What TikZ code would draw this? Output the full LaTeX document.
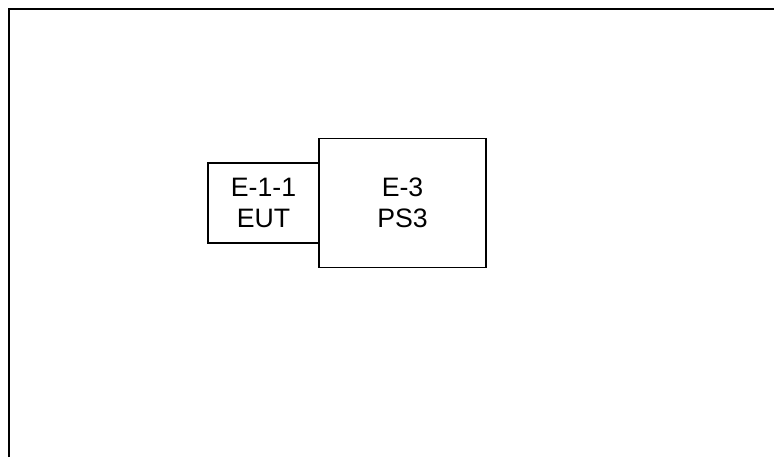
\documentclass[tikz,border=0pt]{standalone}
\usepackage{fontspec}
\setmainfont{Liberation Sans}
\usepackage{tikz}
\usetikzlibrary{positioning}

\tikzset{
  unit/.style={draw, line width=0.8pt, inner sep=0pt, outer sep=0pt, align=center,
    font=\fontsize{20}{23.5}\selectfont},
  frame/.style={line width=1.5pt},
}

\begin{document}
\begin{tikzpicture}[x=0.75pt, y=-0.75pt]
  \useasboundingbox (0,0) rectangle (774,457);

  \coordinate (fb) at (9,457);
  \coordinate (fc) at (9,9);
  \coordinate (fr) at (774,9);
  \draw [frame] (fb) -- (fc) -- (fr);

  \node [unit, minimum width=83.25pt, minimum height=60pt] (eut) at (263.5,203) {E-1-1\\EUT};
  \node [unit, right=0pt of eut, minimum width=125.25pt, minimum height=96.75pt] (ps) {E-3\\PS3};
\end{tikzpicture}
\end{document}
